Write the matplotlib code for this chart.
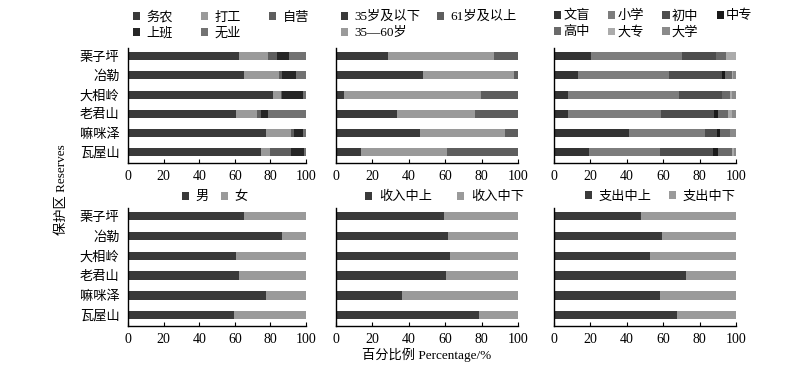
import numpy as np
from matplotlib import pyplot as plt

plt.rcParams['font.family'] = ['Liberation Serif', 'Noto Sans CJK SC']
plt.rcParams['axes.unicode_minus'] = False

reserves = ['栗子坪', '冶勒', '大相岭', '老君山', '嘛咪泽', '瓦屋山']

# occupation
job_labels = ['务农', '打工', '自营', '上班', '无业']
job_farm = [62.1, 65.3, 81.2, 60.8, 77.6, 74.8]
job_migrant = [16.4, 19.4, 4.8, 11.8, 13.8, 5.1]
job_self = [5.1, 1.9, 0.5, 2.0, 1.9, 11.5]
job_office = [7.1, 7.6, 12.0, 3.9, 5.2, 7.7]
job_none = [9.3, 5.8, 1.5, 21.5, 1.5, 0.9]

# age
age_labels = ['35岁及以下', '35—60岁', '61岁及以上']
age_young = [28.5, 47.9, 4.6, 33.5, 46.4, 13.5]
age_mid = [58.2, 50.1, 75.1, 42.9, 46.7, 47.7]
age_old = [13.3, 2.0, 20.3, 23.6, 6.9, 38.8]

# education
edu_labels = ['文盲', '小学', '初中', '中专', '高中', '大专', '大学']
edu_illiterate = [20.1, 13.2, 7.5, 7.5, 41.2, 19.2]
edu_primary = [50.4, 50.2, 61.2, 51.1, 41.6, 39.0]
edu_junior = [18.3, 28.7, 23.4, 29.5, 6.6, 29.0]
edu_technical = [0.0, 1.9, 0.0, 1.8, 2.0, 2.9]
edu_senior = [5.7, 3.6, 4.6, 5.9, 5.3, 7.9]
edu_college = [5.5, 0.9, 1.3, 2.0, 0.0, 1.0]
edu_university = [0.0, 1.5, 2.0, 2.2, 3.3, 1.0]

# gender / income / expense
sex_labels = ['男', '女']
male = [65.0, 86.5, 60.7, 62.6, 77.6, 59.3]
female = [35.0, 13.5, 39.3, 37.4, 22.4, 40.7]

income_labels = ['收入中上', '收入中下']
income_high = [59.1, 61.5, 62.4, 60.7, 36.0, 78.7]
income_low = [40.9, 38.5, 37.6, 39.3, 64.0, 21.3]

expense_labels = ['支出中上', '支出中下']
expense_high = [47.9, 59.6, 53.0, 72.6, 58.5, 67.8]
expense_low = [52.1, 40.4, 47.0, 27.4, 41.5, 32.2]


def stacked(ax, series, labels, colors, show_names):
    y = np.arange(len(reserves))[::-1]
    left = np.zeros(len(reserves))
    handles = []
    for vals, lab, c in zip(series, labels, colors):
        h = ax.barh(y, vals, left=left, height=0.42, color=c, label=lab)
        handles.append(h)
        left += np.array(vals)
    ax.set_xlim(0, 100)
    ax.set_ylim(-0.55, 5.42)
    ax.set_xticks(range(0, 101, 20))
    ax.set_yticks(y)
    ax.set_yticklabels(reserves if show_names else [])
    ax.tick_params(axis='x', direction='in', length=3, labelsize=10, pad=5)
    ax.tick_params(axis='y', length=0, labelsize=9.5, pad=6)
    for s in ['top', 'right']:
        ax.spines[s].set_visible(False)
    for s in ['left', 'bottom']:
        ax.spines[s].set_color('black')
        ax.spines[s].set_linewidth(1)
    return handles


def legend(ax, handles, order, ncol, x, y, colsp, hpad=0.5):
    hs = [handles[i] for i in order]
    ax.legend(hs, [h.get_label() for h in hs], ncol=ncol, loc='upper left',
              bbox_to_anchor=(x / 800, 1 - y / 371), bbox_transform=ax.figure.transFigure,
              frameon=False, fontsize=9.5, handlelength=0.55, handleheight=0.55,
              handletextpad=hpad, columnspacing=colsp, labelspacing=0.3,
              borderpad=0, borderaxespad=0)


fig = plt.figure(figsize=(8, 3.71), dpi=100)

top_b, top_h = 1 - 163 / 371, 115 / 371
bot_b, bot_h = 1 - 326 / 371, 118 / 371
cols = [(128 / 800, 178 / 800), (336 / 800, 182 / 800), (554 / 800, 182 / 800)]

ax1 = fig.add_axes([cols[0][0], top_b, cols[0][1], top_h])
ax2 = fig.add_axes([cols[1][0], top_b, cols[1][1], top_h])
ax3 = fig.add_axes([cols[2][0], top_b, cols[2][1], top_h])
ax4 = fig.add_axes([cols[0][0], bot_b, cols[0][1], bot_h])
ax5 = fig.add_axes([cols[1][0], bot_b, cols[1][1], bot_h])
ax6 = fig.add_axes([cols[2][0], bot_b, cols[2][1], bot_h])

h1 = stacked(ax1, [job_farm, job_migrant, job_self, job_office, job_none], job_labels,
             ['#3a3a3a', '#9a9a9a', '#5e5e5e', '#262626', '#727272'], True)
legend(ax1, h1, [0, 3, 1, 4, 2], 3, 133, 11, 2.1)

h2 = stacked(ax2, [age_young, age_mid, age_old], age_labels,
             ['#3a3a3a', '#9a9a9a', '#5e5e5e'], False)
legend(ax2, h2, [0, 1, 2], 2, 341, 11, 1.2)

h3 = stacked(ax3, [edu_illiterate, edu_primary, edu_junior, edu_technical,
                   edu_senior, edu_college, edu_university], edu_labels,
             ['#333333', '#7d7d7d', '#4d4d4d', '#1a1a1a', '#6a6a6a', '#ababab', '#8a8a8a'], False)
legend(ax3, h3, [0, 4, 1, 5, 2, 6, 3], 4, 554, 10, 1.4, hpad=0.15)

h4 = stacked(ax4, [male, female], sex_labels, ['#3a3a3a', '#9a9a9a'], True)
legend(ax4, h4, [0, 1], 2, 182, 191, 0.9)

h5 = stacked(ax5, [income_high, income_low], income_labels, ['#3a3a3a', '#9a9a9a'], False)
legend(ax5, h5, [0, 1], 2, 365, 191, 1.9)

h6 = stacked(ax6, [expense_high, expense_low], expense_labels, ['#3a3a3a', '#9a9a9a'], False)
legend(ax6, h6, [0, 1], 2, 585, 191, 1.3)

fig.text(62 / 800, 0.49, '保护区 Reserves', rotation=90, ha='center', va='center', fontsize=9.5)
fig.text(427 / 800, 1 - 355 / 371, '百分比例 Percentage/%', ha='center', va='center', fontsize=9.5)

plt.savefig('out.png', dpi=100)
